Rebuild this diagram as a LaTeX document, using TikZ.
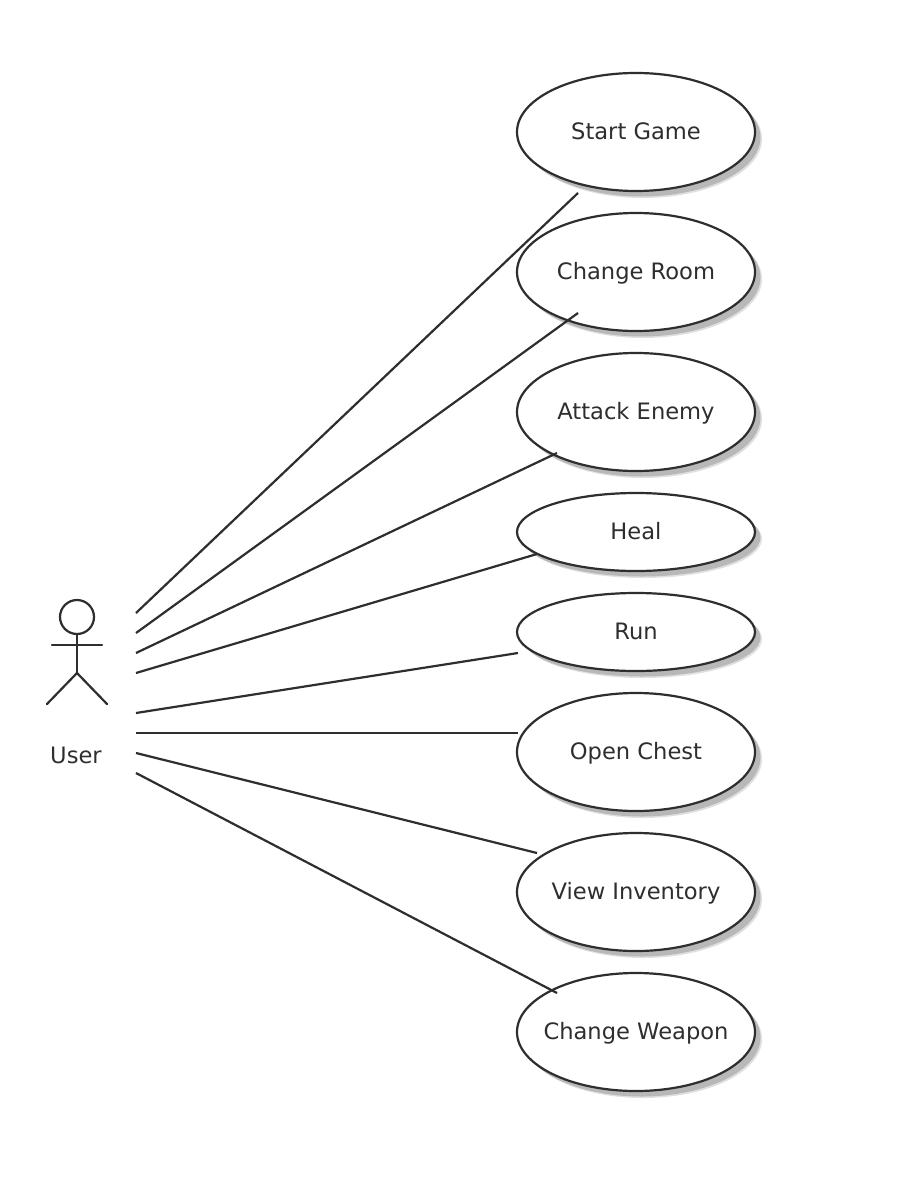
\documentclass[tikz,border=0pt]{standalone}
\usepackage{fontspec}
\setmainfont{DejaVu Sans}
\usetikzlibrary{shapes.geometric,shadows}
\definecolor{ink}{HTML}{2E2E2E}
\newcommand{\lab}[1]{\makebox[0pt]{\raisebox{-7.5pt}[0pt][0pt]{#1}}}
\tikzset{
  x=1pt,y=-1pt,
  usecase/.style={ellipse,draw=ink,line width=2.2pt,fill=white,inner sep=0pt,
    minimum width=238pt,text=ink,font=\fontsize{22.6}{26}\selectfont,
    general shadow={shadow xshift=7pt,shadow yshift=-7pt,fill=black!12},
    general shadow={shadow xshift=5.5pt,shadow yshift=-5.5pt,fill=black!28}},
  tall/.style={usecase,minimum height=118pt},
  flat/.style={usecase,minimum height=78pt},
  wire/.style={draw=ink,line width=2.2pt},
  stick/.style={draw=ink,line width=2.2pt,line cap=round,line join=round},
}
\begin{document}
\begin{tikzpicture}
\useasboundingbox (0,0) rectangle (904,1190);
\fill[white] (0,0) rectangle (904,1190);
\node[tall] (start) at (636,132) {\lab{Start Game}};
\node[tall] (room) at (636,272) {\lab{Change Room}};
\node[tall] (attack) at (636,412) {\lab{Attack Enemy}};
\node[flat] (heal) at (636,532) {\lab{Heal}};
\node[flat] (run) at (636,632) {\lab{Run}};
\node[tall] (chest) at (636,752) {\lab{Open Chest}};
\node[tall] (inv) at (636,892) {\lab{View Inventory}};
\node[tall] (weapon) at (636,1032) {\lab{Change Weapon}};
% actor
\node[circle,draw=ink,line width=2.2pt,minimum size=34pt,inner sep=0pt] (head) at (77,617) {};
\coordinate (hip) at (77,673);
\coordinate (armL) at (52,645);
\coordinate (armR) at (102,645);
\coordinate (footL) at (47,704);
\coordinate (footR) at (107,704);
\draw[stick] (head.south) -- (hip);
\draw[stick] (armL) -- (armR);
\draw[stick] (footL) -- (hip) -- (footR);
\node[text=ink,font=\fontsize{22.6}{26}\selectfont] (user) at (76,755) {User};
% connector ends
\coordinate (a1) at (136,613); \coordinate (e1) at (578,193);
\coordinate (a2) at (136,633); \coordinate (e2) at (578,313);
\coordinate (a3) at (136,653); \coordinate (e3) at (557,453);
\coordinate (a4) at (136,673); \coordinate (e4) at (537,554);
\coordinate (a5) at (136,713); \coordinate (e5) at (518,653);
\coordinate (a6) at (136,733); \coordinate (e6) at (518,733);
\coordinate (a7) at (136,753); \coordinate (e7) at (537,853);
\coordinate (a8) at (136,773); \coordinate (e8) at (557,993);
\foreach \i in {1,...,8} {\draw[wire] (a\i) -- (e\i);}
\end{tikzpicture}
\end{document}
